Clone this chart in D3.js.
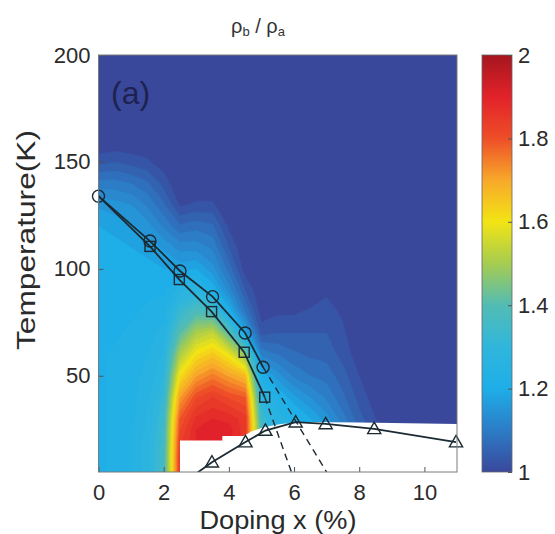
<!DOCTYPE html>
<html><head><meta charset="utf-8">
<script src="https://cdn.jsdelivr.net/npm/d3@7"></script>
<style>body{margin:0;background:#fff;} svg{display:block;font-family:"Liberation Sans",Arial,sans-serif;}</style>
</head><body><svg id="c" width="555" height="534"></svg>
<script>
// ---- data ----
const dopingGrid = [0,0.5,1,1.5,2,2.5,3,3.5,4,4.5,5,5.5,6,6.5,7,7.5,8,8.5,9,9.5,10,10.5,11];
const tempGrid = [5,10,15,20,25,30,40,50,60,70,80,90,100,110,120,130,140,150,160,200];
// rho_b / rho_a, one row per temperature (ascending), one column per doping
const ratioRows = [
 [1.22,1.23,1.25,1.29,1.37,1.86,1.90,1.92,1.91,1.86,1.40,1.27,1.25,1.22,1.18,1.12,1.07,1.03,1.01,1,1,1,1],
 [1.22,1.23,1.25,1.29,1.37,1.86,1.90,1.92,1.91,1.86,1.40,1.27,1.25,1.22,1.18,1.12,1.07,1.03,1.01,1,1,1,1],
 [1.22,1.23,1.25,1.29,1.37,1.85,1.90,1.92,1.91,1.86,1.40,1.27,1.25,1.22,1.18,1.12,1.07,1.03,1.01,1,1,1,1],
 [1.22,1.23,1.25,1.29,1.36,1.84,1.90,1.92,1.91,1.86,1.40,1.27,1.25,1.22,1.18,1.12,1.07,1.03,1.01,1,1,1,1],
 [1.22,1.23,1.25,1.28,1.36,1.82,1.90,1.92,1.91,1.86,1.38,1.27,1.25,1.22,1.18,1.12,1.07,1.03,1.01,1,1,1,1],
 [1.22,1.23,1.24,1.28,1.35,1.80,1.88,1.90,1.89,1.86,1.35,1.26,1.24,1.20,1.16,1.11,1.06,1.025,1.01,1,1,1,1],
 [1.22,1.23,1.24,1.27,1.33,1.72,1.82,1.85,1.82,1.80,1.30,1.23,1.18,1.15,1.12,1.08,1.04,1.01,1,1,1,1,1],
 [1.22,1.23,1.24,1.26,1.30,1.62,1.72,1.76,1.72,1.68,1.22,1.16,1.12,1.10,1.09,1.06,1.025,1,1,1,1,1,1],
 [1.22,1.23,1.23,1.25,1.28,1.52,1.62,1.66,1.60,1.48,1.12,1.10,1.08,1.07,1.065,1.04,1.01,1,1,1,1,1,1],
 [1.22,1.22,1.23,1.24,1.26,1.42,1.52,1.55,1.42,1.20,1.04,1.05,1.05,1.05,1.05,1.03,1,1,1,1,1,1,1],
 [1.22,1.22,1.22,1.23,1.24,1.34,1.40,1.38,1.22,1.10,1.01,1.02,1.02,1.03,1.035,1.02,1,1,1,1,1,1,1],
 [1.22,1.22,1.22,1.22,1.22,1.27,1.29,1.22,1.14,1.05,1,1,1,1,1.02,1,1,1,1,1,1,1,1],
 [1.22,1.22,1.22,1.21,1.20,1.19,1.20,1.16,1.09,1.01,1,1,1,1,1,1,1,1,1,1,1,1,1],
 [1.21,1.21,1.20,1.19,1.17,1.14,1.14,1.12,1.05,1,1,1,1,1,1,1,1,1,1,1,1,1,1],
 [1.20,1.19,1.18,1.16,1.12,1.08,1.09,1.08,1.02,1,1,1,1,1,1,1,1,1,1,1,1,1,1],
 [1.17,1.16,1.15,1.12,1.08,1.02,1.03,1.03,1,1,1,1,1,1,1,1,1,1,1,1,1,1,1],
 [1.11,1.11,1.10,1.08,1.04,1,1,1,1,1,1,1,1,1,1,1,1,1,1,1,1,1,1],
 [1.04,1.05,1.04,1.03,1.01,1,1,1,1,1,1,1,1,1,1,1,1,1,1,1,1,1,1],
 [1,1,1,1,1,1,1,1,1,1,1,1,1,1,1,1,1,1,1,1,1,1,1],
 [1,1,1,1,1,1,1,1,1,1,1,1,1,1,1,1,1,1,1,1,1,1,1]
];
const circleX = [0,1.58,2.5,3.5,4.5,5.05];
const circleT = [134,113,99,87,70,54];
const squareX = [0,1.58,2.48,3.47,4.47,5.1];
const squareT = [134,110.5,95,80,61,40];
const triangleX = [2.7,3.48,4.51,5.12,6.05,6.97,8.46,10.97];
const triangleT = [1,9.6,19,24.4,28.3,27.5,25.2,19];
const dashUpperX = [5.05,7.0], dashUpperT = [54,5];
const dashLowerX = [5.1,5.92], dashLowerT = [40,5];
// upper edge of the region without data (white)
const noDataX = [2.5,2.5,3.8,3.8,4.45,4.7,5.1,5.6,6.3,8,11];
const noDataT = [5,19.7,19.7,21.8,21.8,24,26,27.5,28.4,28.2,27.5];
const xTicks = [0,2,4,6,8,10];
const yTicks = [50,100,150,200];
const cbTicks = [1,1.2,1.4,1.6,1.8,2];
const cbTickLabels = ["1","1.2","1.4","1.6","1.8","2"];
const colorStops = [1,1.1,1.2,1.3,1.4,1.5,1.6,1.7,1.8,1.9,2];
const colorHex = ["#3a489c","#2c7cc6","#1eaee8","#30b6dc","#52bcb4","#a6cc50","#f2e414","#f8a82a","#ee4e28","#e2222a","#a5161e"];

// ---- layout ----
const svg = d3.select("#c");
const L = 98.5, R = 457, T0 = 55, B = 472;
const x = d3.scaleLinear().domain([0,11]).range([L,R]);
const y = d3.scaleLinear().domain([5,200]).range([B,T0]);
const color = d3.scaleLinear().domain(colorStops).range(colorHex).interpolate(d3.interpolateRgb).clamp(true);

const defs = svg.append("defs");
defs.append("clipPath").attr("id","plotclip").append("rect").attr("x",L).attr("y",T0).attr("width",R-L).attr("height",B-T0);
defs.append("clipPath").attr("id","markclip").append("rect").attr("x",L-20).attr("y",T0-20).attr("width",R-L+40).attr("height",B-T0+20);

// ---- heatmap via filled contours ----
const nx = dopingGrid.length, ny = tempGrid.length;
const values = ratioRows.flat();
const levels = d3.range(1.0, 2.0, 0.025);
const contours = d3.contours().size([nx, ny]).thresholds(levels)(values);
const gx = d3.scaleLinear().domain(d3.range(nx)).range(dopingGrid).clamp(true);
const gy = d3.scaleLinear().domain(d3.range(ny)).range(tempGrid).clamp(true);
const proj = d3.geoTransform({point(px, py){ this.stream.point(x(gx(px-0.5)), y(gy(py-0.5))); }});
const gpath = d3.geoPath(proj);
const heat = svg.append("g").attr("clip-path","url(#plotclip)");
heat.append("rect").attr("x",L).attr("y",T0).attr("width",R-L).attr("height",B-T0).attr("fill",color(1));
heat.selectAll("path.band").data(contours).join("path").attr("class","band")
  .attr("d",gpath).attr("fill",d=>color(d.value)).attr("stroke",d=>color(d.value)).attr("stroke-width",0.4);

// no-data region
const noData = noDataX.map((v,i)=>[v,noDataT[i]]);
heat.append("path").datum(noData)
  .attr("d", d3.area().x(d=>x(d[0])).y0(y(5)).y1(d=>y(d[1])))
  .attr("fill","#ffffff");

// ---- lines & markers ----
const marks = svg.append("g").attr("clip-path","url(#markclip)");
const lineGen = d3.line().x(d=>x(d[0])).y(d=>y(d[1]));
const ink = "#1c2a33";
const circ = circleX.map((v,i)=>[v,circleT[i]]);
const sq = squareX.map((v,i)=>[v,squareT[i]]);
const tri = triangleX.map((v,i)=>[v,triangleT[i]]);
[[dashUpperX,dashUpperT],[dashLowerX,dashLowerT]].forEach(([dx,dt])=>{
  marks.append("path").datum(dx.map((v,i)=>[v,dt[i]])).attr("d",lineGen)
    .attr("fill","none").attr("stroke",ink).attr("stroke-width",1.4).attr("stroke-dasharray","7,5");
});
[circ,sq,tri].forEach(s=>{
  marks.append("path").datum(s).attr("d",lineGen).attr("fill","none").attr("stroke",ink).attr("stroke-width",1.8);
});
marks.selectAll("circle.c").data(circ).join("circle").attr("class","c")
  .attr("cx",d=>x(d[0])).attr("cy",d=>y(d[1])).attr("r",6)
  .attr("fill","none").attr("stroke",ink).attr("stroke-width",1.4);
marks.selectAll("rect.s").data(sq.slice(1)).join("rect").attr("class","s")
  .attr("x",d=>x(d[0])-5).attr("y",d=>y(d[1])-5).attr("width",10).attr("height",10)
  .attr("fill","none").attr("stroke",ink).attr("stroke-width",1.4);
const triSym = d3.symbol().type(d3.symbolTriangle).size(75);
marks.selectAll("path.t").data(tri).join("path").attr("class","t")
  .attr("transform",d=>`translate(${x(d[0])},${y(d[1])+1})`).attr("d",triSym)
  .attr("fill","none").attr("stroke",ink).attr("stroke-width",1.4);

// ---- axes ----
const axisCol = "#555";
const xa = svg.append("g").attr("transform",`translate(0,${B})`)
  .call(d3.axisBottom(x).tickValues(xTicks).tickSizeInner(-5).tickSizeOuter(0).tickPadding(12).tickFormat(d3.format("d")));
const ya = svg.append("g").attr("transform",`translate(${L},0)`)
  .call(d3.axisLeft(y).tickValues(yTicks).tickSizeInner(-5).tickSizeOuter(0).tickPadding(8).tickFormat(d3.format("d")));
[xa,ya].forEach(a=>{
  a.select(".domain").remove();
  a.selectAll("line").attr("stroke",axisCol);
  a.selectAll("text").attr("font-size",22).attr("fill","#2a2a2a").attr("font-family","Liberation Sans, Arial, sans-serif");
});
// box
svg.append("rect").attr("x",L).attr("y",T0).attr("width",R-L).attr("height",B-T0)
  .attr("fill","none").attr("stroke","#7a7a7a").attr("stroke-width",1);

// labels
svg.append("text").attr("x",278).attr("y",520).attr("dy","0.35em").attr("text-anchor","middle")
  .attr("font-size",25).attr("textLength",157).attr("lengthAdjust","spacingAndGlyphs")
  .attr("fill","#2a2a2a").text("Doping x (%)");
svg.append("text").attr("transform","translate(26,240) rotate(-90)").attr("dy","0.35em").attr("text-anchor","middle")
  .attr("font-size",25).attr("textLength",220).attr("lengthAdjust","spacingAndGlyphs")
  .attr("fill","#2a2a2a").text("Temperature(K)");
svg.append("text").attr("x",111).attr("y",104).attr("font-size",32).attr("fill","#1d2250").text("(a)");

// title rho_b / rho_a
const title = svg.append("text").attr("x",258).attr("y",33).attr("text-anchor","middle").attr("font-size",20).attr("fill","#333");
title.append("tspan").text("ρ");
title.append("tspan").attr("font-size",13).attr("dy",3).text("b");
title.append("tspan").attr("dy",-3).text(" / ρ");
title.append("tspan").attr("font-size",13).attr("dy",3).text("a");

// ---- colorbar ----
const cbL = 482, cbW = 30;
const cb = d3.scaleLinear().domain([1,2]).range([B,T0]);
const grad = defs.append("linearGradient").attr("id","cbgrad").attr("x1",0).attr("y1",1).attr("x2",0).attr("y2",0);
grad.selectAll("stop").data(colorStops).join("stop")
  .attr("offset",d=>(d-1)).attr("stop-color",d=>color(d));
svg.append("rect").attr("x",cbL).attr("y",T0).attr("width",cbW).attr("height",B-T0)
  .attr("fill","url(#cbgrad)").attr("stroke","#666").attr("stroke-width",0.8);
const cba = svg.append("g").attr("transform",`translate(${cbL+cbW},0)`)
  .call(d3.axisRight(cb).tickValues(cbTicks).tickSizeInner(-4).tickSizeOuter(0).tickPadding(6)
    .tickFormat((d,i)=>cbTickLabels[i]));
cba.select(".domain").remove();
cba.selectAll("line").attr("stroke","#555");
cba.selectAll("text").attr("font-size",22).attr("fill","#2a2a2a").attr("font-family","Liberation Sans, Arial, sans-serif");
</script></body></html>
